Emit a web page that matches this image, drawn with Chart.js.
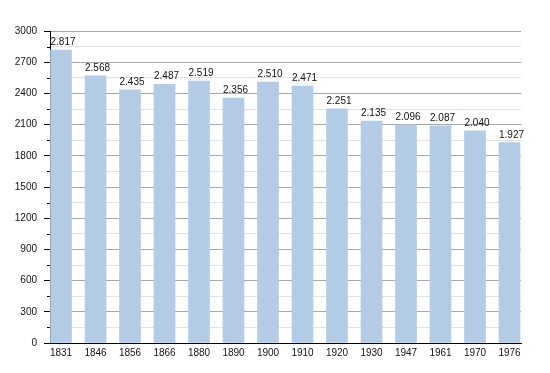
<!DOCTYPE html>
<html>
<head>
<meta charset="utf-8">
<script src="https://cdn.jsdelivr.net/npm/chart.js@4"></script>
<style>
  html, body { margin: 0; padding: 0; background: #fff; }
  #wrap { width: 550px; height: 373px; }
</style>
</head>
<body>
<div id="wrap"><canvas id="popChart"></canvas></div>
<script>
const years = ['1831', '1846', '1856', '1866', '1880', '1890', '1900', '1910', '1920', '1930', '1947', '1961', '1970', '1976'];
const population = [2817, 2568, 2435, 2487, 2519, 2356, 2510, 2471, 2251, 2135, 2096, 2087, 2040, 1927];
const yMax = 3000;
const yMajorStep = 300;
const yMinorStep = 150;

const fmt = v => v >= 1000 ? Math.floor(v / 1000) + '.' + String(v % 1000).padStart(3, '0') : String(v);

// value labels, left aligned to the bar like the original
const valueLabels = {
  id: 'valueLabels',
  afterDatasetsDraw(chart) {
    const ctx = chart.ctx;
    const meta = chart.getDatasetMeta(0);
    ctx.save();
    ctx.font = '10px "Liberation Sans", Arial, sans-serif';
    ctx.fillStyle = '#111';
    ctx.textAlign = 'left';
    ctx.textBaseline = 'alphabetic';
    meta.data.forEach((bar, i) => {
      ctx.fillText(fmt(population[i]), bar.x - bar.width / 2, bar.y - 5);
    });
    ctx.restore();
  }
};

// short minor tick marks on the y axis
const minorTicks = {
  id: 'minorTicks',
  afterDraw(chart) {
    const y = chart.scales.y;
    const ctx = chart.ctx;
    ctx.save();
    ctx.strokeStyle = '#000';
    ctx.lineWidth = 1;
    y.ticks.forEach(t => {
      if (t.value % yMajorStep !== 0) {
        const py = Math.round(y.getPixelForValue(t.value)) + 0.5;
        ctx.beginPath();
        ctx.moveTo(y.right - 3, py);
        ctx.lineTo(y.right, py);
        ctx.stroke();
      }
    });
    ctx.restore();
  }
};

const ctx = document.getElementById('popChart').getContext('2d');
new Chart(ctx, {
  type: 'bar',
  data: {
    datasets: [{
      data: population.map((v, i) => ({ x: i, y: v })),
      backgroundColor: '#b3cbe5',
      borderWidth: 0,
      barThickness: 21
    }]
  },
  options: {
    responsive: true,
    maintainAspectRatio: false,
    animation: false,
    layout: { padding: { top: 31, right: 29, bottom: 0, left: 0 } },
    plugins: {
      legend: { display: false },
      tooltip: { enabled: false }
    },
    scales: {
      x: {
        type: 'linear',
        offset: false,
        min: -0.319,
        max: 13.333,
        grid: { display: false, drawTicks: false, offset: false },
        border: { display: true, color: '#000', width: 1 },
        afterBuildTicks: s => { s.ticks = years.map((_, i) => ({ value: i })); },
        afterFit: s => { s.height = 30; },
        ticks: {
          autoSkip: false,
          maxRotation: 0,
          padding: 4,
          color: '#111',
          font: { family: '"Liberation Sans", Arial, sans-serif', size: 10 },
          callback: v => years[v]
        }
      },
      y: {
        min: 0,
        max: yMax,
        afterFit: s => { s.width = 50; },
        border: { display: true, color: '#000', width: 1 },
        grid: {
          color: c => c.tick && c.tick.value % yMajorStep === 0 ? '#a6a6a6' : '#e2e2e2',
          tickColor: c => c.tick && c.tick.value % yMajorStep === 0 ? '#000' : 'rgba(0,0,0,0)',
          tickLength: 6,
          lineWidth: 1
        },
        ticks: {
          stepSize: yMinorStep,
          autoSkip: false,
          padding: 7,
          color: '#111',
          font: { family: '"Liberation Sans", Arial, sans-serif', size: 10 },
          callback: v => v % yMajorStep === 0 ? v : ''
        }
      }
    }
  },
  plugins: [valueLabels, minorTicks]
});
</script>
</body>
</html>
